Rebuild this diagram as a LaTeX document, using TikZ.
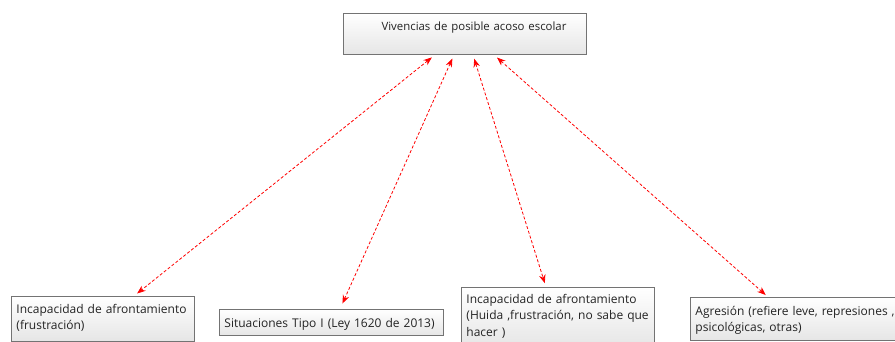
\documentclass[tikz,border=0pt]{standalone}
\usepackage{fontspec}
\setmainfont{Open Sans}
\usetikzlibrary{arrows.meta,positioning,calc}
\definecolor{boxgray}{RGB}{115,115,115}
\definecolor{textgray}{RGB}{35,35,35}
\tikzset{
 >={Stealth[length=8.5pt,width=6.5pt]},
 box/.style={draw=boxgray, line width=0.9pt, top color=white, bottom color=black!10,
   anchor=north west, inner xsep=5pt, inner ysep=0pt, align=left,
   text=textgray, font=\fontsize{12}{16.5}\selectfont},
 link/.style={<->, red, line width=0.8pt, densely dashed, shorten <=4pt, shorten >=4pt}
}

\begin{document}
\begin{tikzpicture}[x=1pt,y=-1pt]
\useasboundingbox (0,0) rectangle (895,341);
%top box
\path (343,13) node[name=vive, box, text width=203pt, inner xsep=20pt, align=right,
  font=\fontsize{11.4}{16.5}\selectfont, text height=17pt, text depth=24pt]
  {Vivencias de posible acoso escolar};

%bottom boxes
\path (11,296) node[name=inc1, box, text width=173pt, text height=17pt, text depth=28pt]
  {Incapacidad de afrontamiento\\(frustración)};
\path (219,309) node[name=sit, box, text width=214pt, text height=18pt, text depth=8pt]
  {Situaciones Tipo I (Ley 1620 de 2013)};
\path (461,287) node[name=inc2, box, text width=183pt, text height=16pt, text depth=44pt]
  {Incapacidad de afrontamiento\\(Huida ,frustración, no sabe que\\hacer )};
\path (690,297) node[name=agr, box, text width=230pt, text height=18pt, text depth=25pt]
  {Agresión (refiere leve, represiones ,\\psicológicas, otras)};

\path[link] (vive.south -| 435,0) edge (inc1.north -| 134,0);
\path[link, shorten >=6pt] (vive.south -| 454,0) edge (sit.north -| 340,0);
\path[link] (vive.south -| 473,0) edge (inc2.north -| 546,0);
\path[link, shorten >=3pt] (vive.south -| 494,0) edge (agr.north -| 768,0);
\end{tikzpicture}
\end{document}
